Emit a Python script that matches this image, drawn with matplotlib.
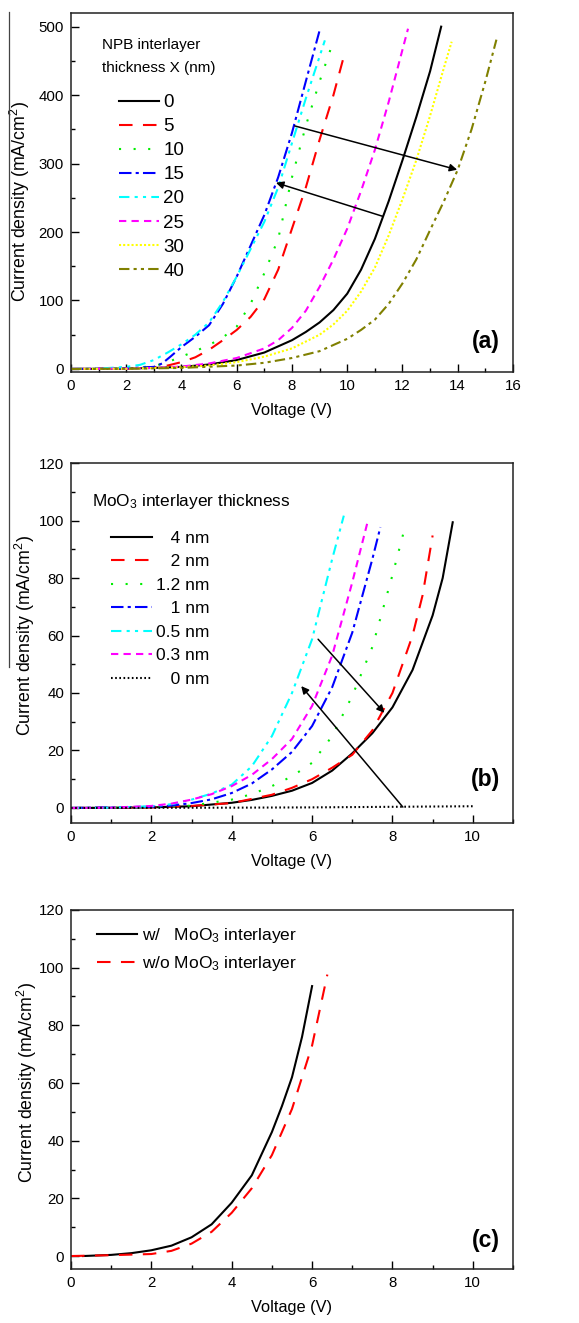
"""J-V curves for NPB and MoO3 interlayer devices, three stacked panels"""
import matplotlib
matplotlib.use('Agg')
import matplotlib.pyplot as plt
from matplotlib.ticker import MultipleLocator
from matplotlib.lines import Line2D

plt.rcParams['font.family'] = ['Liberation Sans', 'DejaVu Sans']
plt.rcParams['mathtext.fontset'] = 'custom'
plt.rcParams['mathtext.rm'] = 'Liberation Sans'
plt.rcParams['mathtext.it'] = 'Liberation Sans:italic'

## (a) NPB interlayer thickness
a_labels = ['0', '5', '10', '15', '20', '25', '30', '40']
a_v0 = [0, 1, 2, 3, 4, 5, 6, 7, 8, 8.5, 9, 9.5, 10, 10.5, 11, 11.5, 12, 12.5, 13, 13.4]
a_j0 = [0, 0.2, 0.6, 1.5, 3, 6.5, 13, 24, 42, 54, 68, 86, 110, 145, 190, 245, 305, 368, 435, 500]
a_v5 = [0, 2, 3, 3.5, 4, 4.5, 5, 5.5, 6, 6.5, 7, 7.5, 8, 8.5, 9, 9.5, 9.92]
a_j5 = [0, 0.5, 2.5, 5, 10, 17, 28, 42, 57, 76, 102, 145, 205, 265, 335, 400, 463]
a_v10 = [0, 2, 3, 3.5, 4, 4.5, 5, 5.5, 6, 6.5, 7, 7.5, 8, 8.5, 9, 9.49]
a_j10 = [0, 0.8, 4, 10, 18, 26, 35, 46, 62, 95, 140, 190, 280, 355, 420, 478]
a_v15 = [0, 1, 2, 3, 3.3, 3.6, 4, 4.5, 5, 5.5, 6, 6.5, 7, 7.5, 8, 8.5, 9.01]
a_j15 = [0, 0.3, 1, 3, 8, 18, 32, 47, 64, 95, 135, 180, 225, 280, 345, 420, 496]
a_v20 = [0, 1, 2, 2.5, 3, 3.5, 4, 4.5, 5, 5.5, 6, 6.5, 7, 7.5, 8, 8.5, 9.19]
a_j20 = [0, 0.5, 3, 6, 13, 24, 36, 50, 68, 98, 135, 175, 215, 265, 330, 395, 480]
a_v25 = [0, 2, 3, 4, 5, 6, 7, 7.5, 8, 8.5, 9, 9.5, 10, 10.5, 11, 11.5, 12.2]
a_j25 = [0, 0.5, 1.5, 3.5, 8, 16, 30, 42, 60, 85, 120, 160, 205, 260, 320, 390, 497]
a_v30 = [0, 2, 4, 5, 6, 7, 8, 9, 9.5, 10, 10.5, 11, 11.5, 12, 12.5, 13, 13.5, 13.78]
a_j30 = [0, 0.3, 2.5, 5, 10, 18, 30, 50, 65, 85, 113, 148, 195, 248, 305, 370, 440, 478]
a_v40 = [0, 2, 4, 6, 7, 8, 9, 10, 10.5, 11, 11.5, 12, 12.5, 13, 13.5, 14, 14.5, 15, 15.4]
a_j40 = [0, 0.3, 1.5, 5, 9, 16, 26, 44, 57, 72, 95, 125, 160, 203, 245, 291, 350, 420, 481]
a_arrows = [((8.1, 355), (13.98, 291)), ((11.28, 223), (7.42, 272))]

## (b) MoO3 interlayer thickness
b_labels = ['   4 nm', '   2 nm', '1.2 nm', '   1 nm', '0.5 nm', '0.3 nm', '   0 nm']
b_v4 = [0, 1, 2, 3, 4, 4.5, 5, 5.5, 6, 6.5, 7, 7.5, 8, 8.5, 9, 9.25, 9.5]
b_j4 = [0, 0.05, 0.2, 0.6, 1.8, 2.8, 4.2, 6, 8.7, 13, 19, 26, 35, 48, 67, 80, 99.4]
b_v2 = [0, 2, 3, 4, 5, 5.5, 6, 6.5, 7, 7.5, 8, 8.5, 8.75, 9.0]
b_j2 = [0, 0.2, 0.7, 1.7, 4.6, 7, 10, 14, 18.5, 27, 40, 60, 74, 94.8]
b_v12 = [0, 2, 3, 4, 4.5, 5, 5.5, 6, 6.5, 7, 7.5, 8, 8.28]
b_j12 = [0, 0.3, 0.8, 2.9, 4.8, 7.6, 11, 15.7, 25, 39, 56, 81, 96]
b_v1 = [0, 2, 2.5, 3, 3.5, 4, 4.5, 5, 5.5, 6, 6.5, 7, 7.5, 7.7]
b_j1 = [0, 0.4, 0.8, 1.7, 3, 5.2, 8.5, 13.4, 19.5, 28.5, 42, 61, 86.6, 97.7]
b_v05 = [0, 1, 2, 2.5, 3, 3.5, 4, 4.5, 5, 5.5, 6, 6.5, 6.79]
b_j05 = [0, 0.1, 0.6, 1.3, 2.9, 5, 8.1, 14.5, 25, 40, 58.7, 86.6, 101.7]
b_v03 = [0, 1, 2, 2.5, 3, 3.5, 4, 4.5, 5, 5.5, 6, 6.5, 7, 7.39]
b_j03 = [0, 0.1, 0.7, 1.5, 2.9, 4.8, 7.6, 11.5, 17, 24, 35.5, 53, 78.5, 100]
b_v0 = [0, 2, 4, 6, 8, 10]
b_j0 = [0, 0.05, 0.1, 0.2, 0.4, 0.6]
b_arrows = [((6.15, 58.7), (7.8, 33.1)), ((8.26, 0.3), (5.73, 42.4))]

## (c) with / without MoO3
c_labels = ['w/   MoO$_3$ interlayer', 'w/o MoO$_3$ interlayer']
c_v_w = [0.3, 1, 1.5, 2, 2.5, 3, 3.5, 4, 4.5, 5, 5.25, 5.5, 5.75, 6]
c_j_w = [0, 0.4, 1.0, 2, 3.6, 6.5, 11, 18.5, 28, 43, 52, 62, 76, 93.6]
c_v_wo = [0, 1, 2, 2.5, 3, 3.5, 4, 4.5, 5, 5.5, 6, 6.38]
c_j_wo = [0, 0.3, 0.7, 1.8, 4.3, 8.4, 15, 23.5, 35, 51, 73, 97.6]

# line styles, dashes in units of linewidth
lw = 1.5
st_solid = dict(color='black', ls='-')
st_red = dict(color='#ff0000', dashes=(6.5, 5))
st_green = dict(color='#00ee00', dashes=(1, 6))
st_blue = dict(color='#0000ff', dashes=(6, 2, 1.5, 2))
st_cyan = dict(color='#00ffff', dashes=(5, 2.5, 1.5, 2.5, 1.5, 2.5))
st_mag = dict(color='#ff00ff', dashes=(3.5, 2.5))
st_yel = dict(color='#ffff00', dashes=(1, 1))
st_olive = dict(color='#808000', dashes=(5, 2, 1.5, 2, 1.5, 2))
st_dot = dict(color='black', dashes=(0.8, 1.2))

fig = plt.figure(figsize=(5.79, 13.23), dpi=100)
left, width = 0.1226, 0.7634
ax_a = fig.add_axes([left, 0.7188, width, 0.2714])
ax_b = fig.add_axes([left, 0.3780, width, 0.2720])
ax_c = fig.add_axes([left, 0.0408, width, 0.2714])

def style_axes(ax, xmax, xmaj, ymin, ymax, ymaj, ymin_step):
    ax.set_xlim(0, xmax)
    ax.set_ylim(ymin, ymax)
    ax.xaxis.set_major_locator(MultipleLocator(xmaj))
    ax.xaxis.set_minor_locator(MultipleLocator(xmaj / 2))
    ax.yaxis.set_major_locator(MultipleLocator(ymaj))
    ax.yaxis.set_minor_locator(MultipleLocator(ymin_step))
    ax.tick_params(which='both', direction='in', top=False, right=False,
                   width=1.0, labelsize=10.8, pad=5)
    ax.tick_params(which='major', length=5.5)
    ax.tick_params(which='minor', length=3)
    for s in ax.spines.values():
        s.set_linewidth(1.1)
        s.set_color('#222222')
    ax.set_xlabel('Voltage (V)', fontsize=11.8, labelpad=7)
    ax.set_ylabel('Current density (mA/cm$^2$)', fontsize=12.8)

def draw_arrows(ax, arrows):
    for start, end in arrows:
        ax.annotate('', xy=end, xytext=start,
                    arrowprops=dict(arrowstyle='-|>', color='black', lw=1.1,
                                    mutation_scale=11, shrinkA=0, shrinkB=0))

##Panel (a)
style_axes(ax_a, 16, 2, -4.5, 520, 100, 50)
ax_a.yaxis.set_label_coords(-0.089, 0.475)
series_a = [(a_v0, a_j0, st_solid), (a_v5, a_j5, st_red), (a_v10, a_j10, st_green),
            (a_v15, a_j15, st_blue), (a_v20, a_j20, st_cyan), (a_v25, a_j25, st_mag),
            (a_v30, a_j30, st_yel), (a_v40, a_j40, st_olive)]
for (v, j, st), lab in zip(series_a, a_labels):
    ax_a.plot(v, j, lw=lw, label=lab, **st)
draw_arrows(ax_a, a_arrows)
ax_a.text(0.070, 0.929, 'NPB interlayer\nthickness X (nm)', transform=ax_a.transAxes,
          fontsize=11, va='top', ha='left', linespacing=1.8)
ax_a.legend(loc='upper left', bbox_to_anchor=(0.109, 0.774), frameon=False,
            fontsize=13.5, handlelength=2.1, handletextpad=0.25, labelspacing=0.37,
            borderpad=0, borderaxespad=0)
ax_a.text(0.97, 0.085, '(a)', transform=ax_a.transAxes, fontsize=16.5,
          fontweight='bold', ha='right', va='center')

##Panel (b)
style_axes(ax_b, 11, 2, -5.2, 120, 20, 10)
ax_b.yaxis.set_label_coords(-0.077, 0.52)
series_b = [(b_v4, b_j4, st_solid), (b_v2, b_j2, st_red), (b_v12, b_j12, st_green),
            (b_v1, b_j1, st_blue), (b_v05, b_j05, st_cyan), (b_v03, b_j03, st_mag),
            (b_v0, b_j0, st_dot)]
for (v, j, st), lab in zip(series_b, b_labels):
    ax_b.plot(v, j, lw=lw, label=lab, **st)
draw_arrows(ax_b, b_arrows)
ax_b.text(0.0475, 0.892, 'MoO$_3$ interlayer thickness', transform=ax_b.transAxes,
          fontsize=12.4, va='center', ha='left')
ax_b.legend(loc='upper left', bbox_to_anchor=(0.0905, 0.812), frameon=False,
            fontsize=12.5, handlelength=2.36, handletextpad=0.23, labelspacing=0.48,
            borderpad=0, borderaxespad=0)
ax_b.text(0.97, 0.12, '(b)', transform=ax_b.transAxes, fontsize=16.5,
          fontweight='bold', ha='right', va='center')

##Panel (c)
style_axes(ax_c, 11, 2, -4.5, 120, 20, 10)
ax_c.yaxis.set_label_coords(-0.073, 0.52)
ax_c.plot(c_v_w, c_j_w, lw=lw, label=c_labels[0], **st_solid)
ax_c.plot(c_v_wo, c_j_wo, lw=lw, label=c_labels[1], **st_red)
ax_c.legend(loc='upper left', bbox_to_anchor=(0.059, 0.955), frameon=False,
            fontsize=12.5, handlelength=2.3, handletextpad=0.29, labelspacing=0.5,
            borderpad=0, borderaxespad=0)
ax_c.text(0.97, 0.08, '(c)', transform=ax_c.transAxes, fontsize=16.5,
          fontweight='bold', ha='right', va='center')

# scan artifact: thin vertical rule at the left edge
fig.add_artist(Line2D([9 / 579, 9 / 579], [1 - 12 / 1323, 1 - 667 / 1323],
                      transform=fig.transFigure, color='#444444', lw=0.9))

fig.savefig('out.png', dpi=100)
